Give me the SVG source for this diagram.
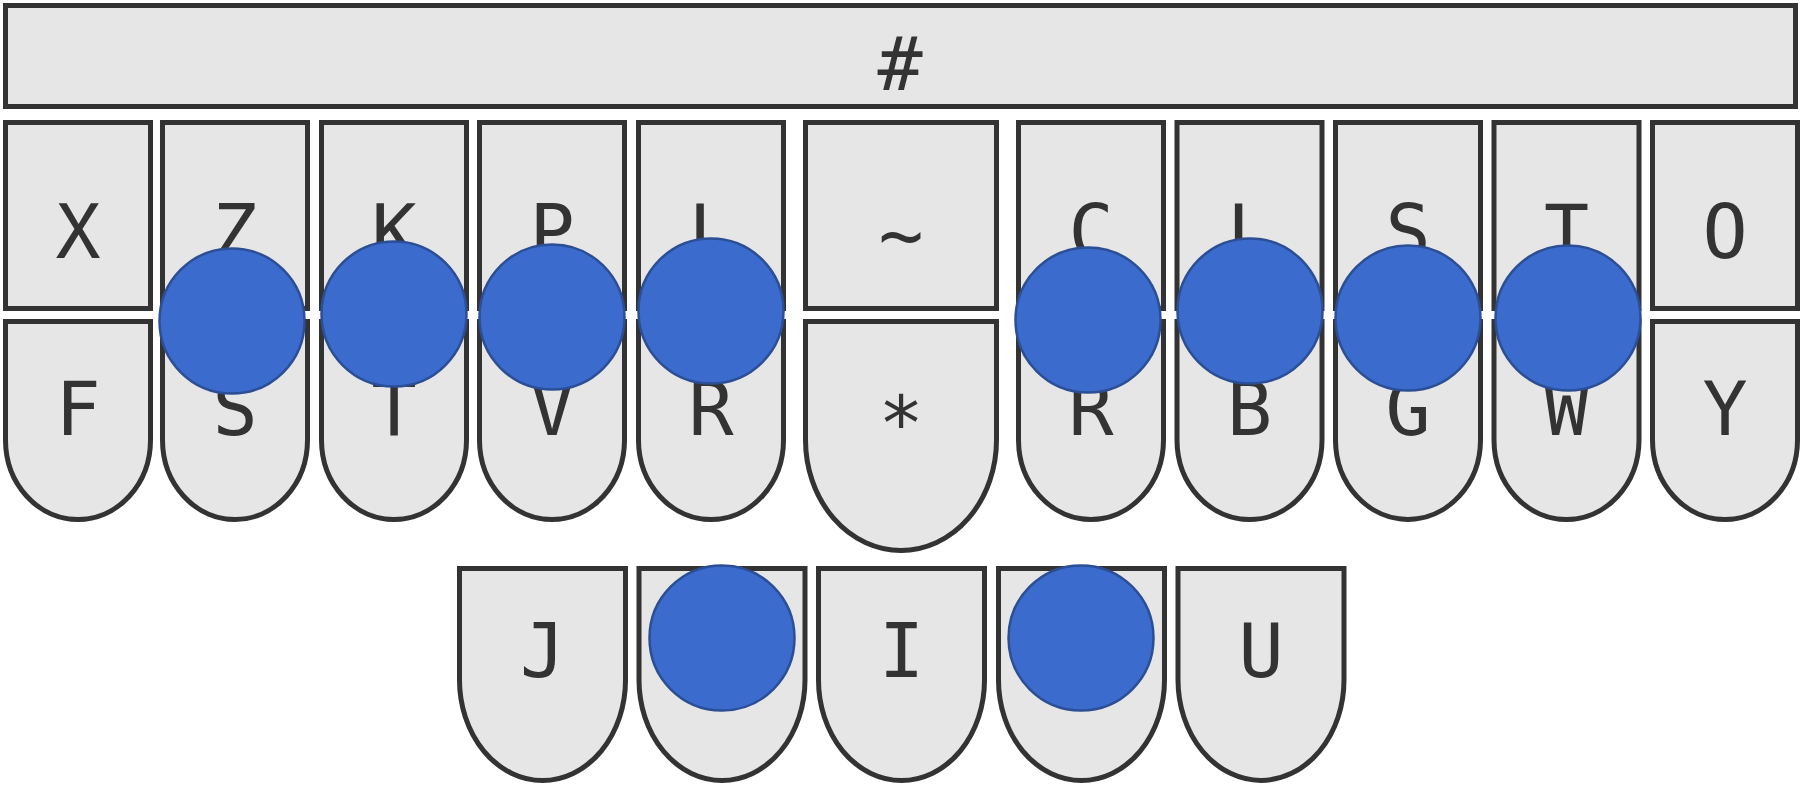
<svg xmlns="http://www.w3.org/2000/svg" width="1801" height="790" viewBox="0 0 1801 790">
<style>
.k{fill:#e6e6e6;stroke:#333;stroke-width:5}
.t{font-family:"DejaVu Sans Mono","Liberation Mono",monospace;font-size:75px;fill:#333;text-anchor:middle}
.d{fill:#3a6bcd;stroke:#2b4e95;stroke-width:2.5}
</style>
<rect width="1801" height="790" fill="#ffffff"/>
<g id="key-num"><rect class="k" x="5.5" y="5.5" width="1790" height="101"/><text class="t" x="900" y="90">#</text></g>
<g id="key-X"><rect class="k" x="5.5" y="122.5" width="145" height="186"/><text class="t" x="78" y="258">X</text></g>
<g id="key-Z"><rect class="k" x="162.5" y="122.5" width="145" height="186"/><text class="t" x="235" y="258">Z</text></g>
<g id="key-K"><rect class="k" x="321.5" y="122.5" width="145" height="186"/><text class="t" x="394" y="258">K</text></g>
<g id="key-P"><rect class="k" x="479.5" y="122.5" width="145" height="186"/><text class="t" x="552" y="258">P</text></g>
<g id="key-L"><rect class="k" x="638.5" y="122.5" width="145" height="186"/><text class="t" x="711" y="258">L</text></g>
<g id="key-tilde"><rect class="k" x="805.5" y="122.5" width="191" height="186"/><text class="t" x="901" y="261">~</text></g>
<g id="key-C"><rect class="k" x="1018.5" y="122.5" width="145" height="186"/><text class="t" x="1091" y="258">C</text></g>
<g id="key-L2"><rect class="k" x="1177" y="122.5" width="145" height="186"/><text class="t" x="1249.5" y="258">L</text></g>
<g id="key-S2"><rect class="k" x="1335.5" y="122.5" width="145" height="186"/><text class="t" x="1408" y="258">S</text></g>
<g id="key-T2"><rect class="k" x="1494" y="122.5" width="145" height="186"/><text class="t" x="1566.5" y="258">T</text></g>
<g id="key-O"><rect class="k" x="1652.5" y="122.5" width="145" height="186"/><text class="t" x="1725" y="258">O</text></g>

<g id="key-F"><path class="k" d="M5.5,321.5 H150.5 V440 A72.5,79.5 0 0 1 5.5,440 Z"/><text class="t" x="78" y="435">F</text></g>
<g id="key-S"><path class="k" d="M162.5,321.5 H307.5 V440 A72.5,79.5 0 0 1 162.5,440 Z"/><text class="t" x="235" y="435">S</text></g>
<g id="key-T"><path class="k" d="M321.5,321.5 H466.5 V440 A72.5,79.5 0 0 1 321.5,440 Z"/><text class="t" x="394" y="435">T</text></g>
<g id="key-V"><path class="k" d="M479.5,321.5 H624.5 V440 A72.5,79.5 0 0 1 479.5,440 Z"/><text class="t" x="552" y="435">V</text></g>
<g id="key-R"><path class="k" d="M638.5,321.5 H783.5 V440 A72.5,79.5 0 0 1 638.5,440 Z"/><text class="t" x="711" y="435">R</text></g>
<g id="key-star"><path class="k" d="M805.5,321.5 H996.5 V440 A95.5,110.5 0 0 1 805.5,440 Z"/><text class="t" x="901" y="449">*</text></g>
<g id="key-R2"><path class="k" d="M1018.5,321.5 H1163.5 V440 A72.5,79.5 0 0 1 1018.5,440 Z"/><text class="t" x="1091" y="435">R</text></g>
<g id="key-B"><path class="k" d="M1177,321.5 H1322 V440 A72.5,79.5 0 0 1 1177,440 Z"/><text class="t" x="1249.5" y="435">B</text></g>
<g id="key-G"><path class="k" d="M1335.5,321.5 H1480.5 V440 A72.5,79.5 0 0 1 1335.5,440 Z"/><text class="t" x="1408" y="435">G</text></g>
<g id="key-W"><path class="k" d="M1494,321.5 H1639 V440 A72.5,79.5 0 0 1 1494,440 Z"/><text class="t" x="1566.5" y="435">W</text></g>
<g id="key-Y"><path class="k" d="M1652.5,321.5 H1797.5 V440 A72.5,79.5 0 0 1 1652.5,440 Z"/><text class="t" x="1725" y="435">Y</text></g>

<g id="key-J"><path class="k" d="M459.5,568.5 H625.5 V680 A83,100.5 0 0 1 459.5,680 Z"/><text class="t" x="542.5" y="677">J</text></g>
<g id="key-A"><path class="k" d="M639,568.5 H805 V680 A83,100.5 0 0 1 639,680 Z"/></g>
<g id="key-I"><path class="k" d="M818.5,568.5 H984.5 V680 A83,100.5 0 0 1 818.5,680 Z"/><text class="t" x="901.5" y="677">I</text></g>
<g id="key-E"><path class="k" d="M998.5,568.5 H1164.5 V680 A83,100.5 0 0 1 998.5,680 Z"/></g>
<g id="key-U"><path class="k" d="M1178,568.5 H1344 V680 A83,100.5 0 0 1 1178,680 Z"/><text class="t" x="1261" y="677">U</text></g>

<g id="presses">
<circle class="d" cx="232" cy="321" r="72.5"/>
<circle class="d" cx="394" cy="314" r="72.5"/>
<circle class="d" cx="552" cy="317" r="72.5"/>
<circle class="d" cx="711" cy="311" r="72.5"/>
<circle class="d" cx="1088" cy="320" r="72.5"/>
<circle class="d" cx="1250" cy="311" r="72.5"/>
<circle class="d" cx="1408" cy="318" r="72.5"/>
<circle class="d" cx="1568" cy="318" r="72.5"/>
<circle class="d" cx="722" cy="638" r="72.5"/>
<circle class="d" cx="1081" cy="638" r="72.5"/>
</g>
<g id="connectors"/>
</svg>
